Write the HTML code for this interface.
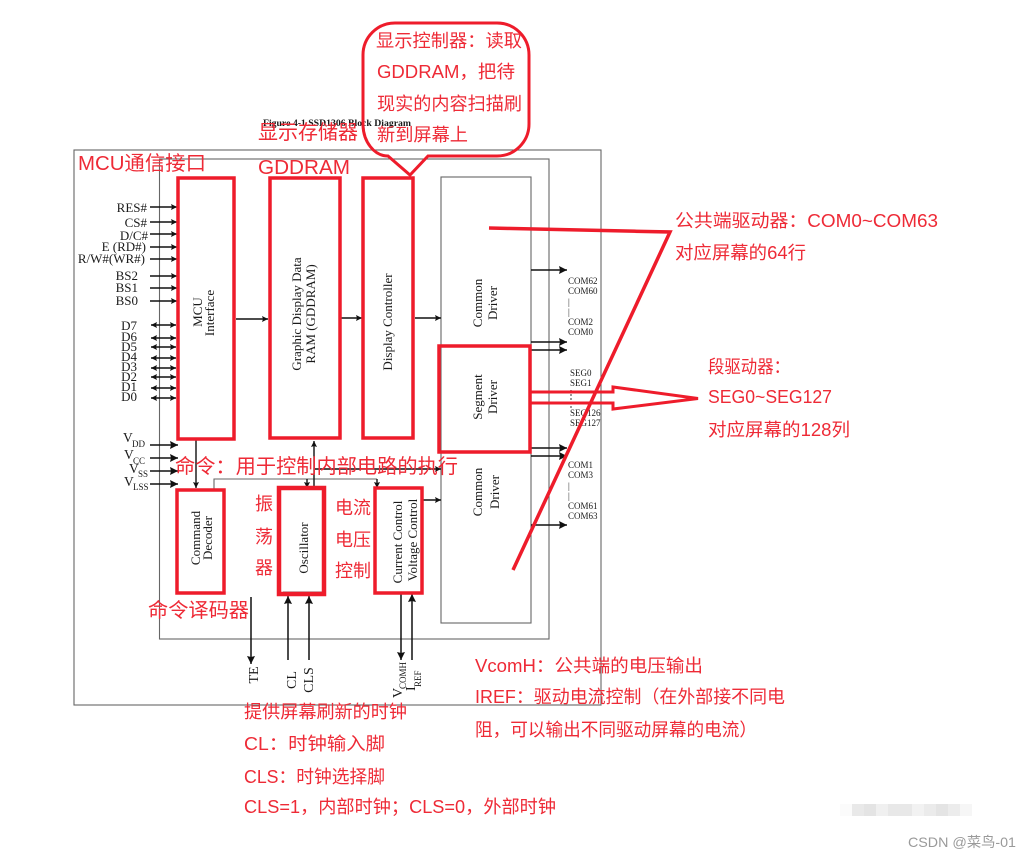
<!DOCTYPE html>
<html><head><meta charset="utf-8"><style>
html,body{margin:0;padding:0;background:#fff}
svg{display:block}
.k{font-family:"Liberation Serif",serif;fill:#1a1a1a}
.r{font-family:"Noto Sans CJK SC","Liberation Sans",sans-serif;fill:#ee2a36}
.l{font-family:"Liberation Sans","Noto Sans CJK SC",sans-serif}
.blk{filter:blur(.35px)}
</style></head><body>
<svg width="1031" height="859" viewBox="0 0 1031 859" xmlns="http://www.w3.org/2000/svg">
<defs>
<marker id="e" markerUnits="userSpaceOnUse" markerWidth="8" markerHeight="8" refX="6" refY="3" orient="auto-start-reverse"><path d="M0,0L6,3L0,6L1,3Z" fill="#111"/></marker>
<marker id="E" markerUnits="userSpaceOnUse" markerWidth="10" markerHeight="10" refX="8" refY="4" orient="auto-start-reverse"><path d="M0,0L8,4L0,8L1,4Z" fill="#111"/></marker>
</defs>
<g class="blk">
<g fill="none" stroke="#666" stroke-width="1.1">
<rect x="74" y="150" width="527" height="555"/>
<rect x="159.500" y="159" width="389.500" height="480"/>
<rect x="441" y="177" width="90" height="446"/>
<path d="M214,490V479H377"/>
<path d="M177,489H224"/>
<path d="M283,592H322"/>
</g>
<g fill="none" stroke="#111" stroke-width="1.4" marker-end="url(#e)">
<path d="M150,207H177"/><path d="M150,222H177"/><path d="M150,234H177"/><path d="M150,247H177"/><path d="M150,259H177"/>
<path d="M150,276H177"/><path d="M150,288H177"/><path d="M150,301H177"/>
<path d="M236,319H268"/><path d="M341,318H362"/><path d="M415,318H441"/>
<path d="M196,440V488"/><path d="M314,488V441"/><path d="M314,469H441"/>
<path d="M307,479V488"/><path d="M377,479V488"/><path d="M423,500H441"/>
</g>
<g fill="none" stroke="#111" stroke-width="1.4" marker-end="url(#e)" marker-start="url(#e)">
<path d="M151,325H176"/><path d="M151,338H176"/><path d="M151,347H176"/><path d="M151,358H176"/><path d="M151,368H176"/><path d="M151,377H176"/><path d="M151,388H176"/><path d="M151,398H176"/>
</g>
<g fill="none" stroke="#111" stroke-width="1.5" marker-end="url(#E)">
<path d="M150,445H178"/><path d="M150,458H178"/><path d="M150,471H178"/><path d="M150,484H178"/>
<path d="M531,270H567"/><path d="M531,342H567"/><path d="M531,350H567"/><path d="M531,448H567"/><path d="M531,456H567"/><path d="M531,525H567"/>
<path d="M251,597V664"/><path d="M288,660V596"/><path d="M309,660V596"/><path d="M401,594V660"/><path d="M412,660V594"/>
</g>
<g class="k" font-size="13" text-anchor="end">
<text x="147" y="212">RES#</text><text x="147" y="227">CS#</text><text x="148" y="240">D/C#</text><text x="146" y="251">E (RD#)</text><text x="145" y="263">R/W#(WR#)</text>
<text x="138" y="280">BS2</text><text x="138" y="292">BS1</text><text x="138" y="305">BS0</text>
<text x="137" y="330">D7</text><text x="137" y="341">D6</text><text x="137" y="351">D5</text><text x="137" y="361">D4</text><text x="137" y="371">D3</text><text x="137" y="381">D2</text><text x="137" y="391">D1</text><text x="137" y="401">D0</text>
</g>
<g class="k" font-size="13.500">
<text x="123" y="442">V</text><text x="124" y="459">V</text><text x="129" y="473">V</text><text x="124" y="486">V</text>
<g font-size="9"><text x="132" y="447">DD</text><text x="133" y="464">CC</text><text x="138" y="477">SS</text><text x="133" y="490">LSS</text></g>
</g>
<g class="k" font-size="13" text-anchor="middle">
<text transform="translate(202,312) rotate(-90)">MCU</text>
<text transform="translate(214,313) rotate(-90)">Interface</text>
<text transform="translate(301,314) rotate(-90)">Graphic Display Data</text>
<text transform="translate(315,314) rotate(-90)">RAM (GDDRAM)</text>
<text transform="translate(392,322) rotate(-90)">Display Controller</text>
<text transform="translate(482,303) rotate(-90)">Common</text>
<text transform="translate(497,303) rotate(-90)">Driver</text>
<text transform="translate(482,397) rotate(-90)">Segment</text>
<text transform="translate(497,397) rotate(-90)">Driver</text>
<text transform="translate(482,492) rotate(-90)">Common</text>
<text transform="translate(499,492) rotate(-90)">Driver</text>
<text transform="translate(200,538) rotate(-90)">Command</text>
<text transform="translate(212,538) rotate(-90)">Decoder</text>
<text transform="translate(308,548) rotate(-90)">Oscillator</text>
<text transform="translate(402,542) rotate(-90)">Current Control</text>
<text transform="translate(417,540) rotate(-90)">Voltage Control</text>
<g font-size="14">
<text transform="translate(258,675) rotate(-90)">TE</text>
<text transform="translate(296,680) rotate(-90)">CL</text>
<text transform="translate(313,680) rotate(-90)">CLS</text>
</g>
</g>
<g class="k" font-size="14">
<text transform="translate(402,698) rotate(-90)">V</text>
<text transform="translate(406,689) rotate(-90)" font-size="9">COMH</text>
<text transform="translate(415,691) rotate(-90)">I</text>
<text transform="translate(421,687) rotate(-90)" font-size="9">REF</text>
</g>
<g class="k" font-size="9">
<text x="568" y="284">COM62</text><text x="568" y="294">COM60</text><text x="568" y="305">|</text><text x="568" y="315">|</text><text x="568" y="325">COM2</text><text x="568" y="335">COM0</text>
<text x="570" y="376">SEG0</text><text x="570" y="386">SEG1</text><text x="570" y="416">SEG126</text><text x="570" y="426">SEG127</text>
<text x="568" y="468">COM1</text><text x="568" y="478">COM3</text><text x="568" y="489">|</text><text x="568" y="499">|</text><text x="568" y="509">COM61</text><text x="568" y="519">COM63</text>
</g>
<path d="M571,390V408" stroke="#333" stroke-width="1" stroke-dasharray="2 2" fill="none"/>
<text class="k" x="263" y="126" font-size="9" font-weight="bold" textLength="148" lengthAdjust="spacingAndGlyphs">Figure 4-1 SSD1306 Block Diagram</text>
<g fill="none" stroke="#ee1c2b" stroke-width="3.5">
<rect x="178" y="178" width="56" height="261"/>
<rect x="270" y="178" width="70" height="260"/>
<rect x="363" y="178" width="50" height="260"/>
<rect x="439" y="346" width="91" height="106"/>
<rect x="177" y="490" width="47" height="103"/>
<rect x="279" y="488" width="45" height="106" stroke-width="4.500"/>
<rect x="375" y="488" width="47" height="105"/>
<path d="M363,55A32,32 0 0 1 395,23H497A32,32 0 0 1 529,55V124A32,32 0 0 1 497,156H428L410,175L388,156A25,32 0 0 1 363,124Z" stroke-width="3"/>
<path d="M489,228L670,232L513,570" stroke-linejoin="miter"/>
<path d="M530,392H613V387L698,398.500L613,409V403H530" stroke-width="3"/>
</g>
<g class="r">
<text class="l" x="78" y="170" font-size="20" textLength="128" lengthAdjust="spacingAndGlyphs">MCU通信接口</text>
<text x="376" y="47" font-size="18" textLength="146" lengthAdjust="spacingAndGlyphs">显示控制器&#xFF1A;读取</text>
<text class="l" x="377" y="78" font-size="18" textLength="138" lengthAdjust="spacingAndGlyphs">GDDRAM&#xFF0C;把待</text>
<text x="377" y="110" font-size="18" textLength="145" lengthAdjust="spacingAndGlyphs">现实的内容扫描刷</text>
<text x="377" y="141" font-size="18" textLength="91" lengthAdjust="spacingAndGlyphs">新到屏幕上</text>
<text x="258" y="139" font-size="20" textLength="100" lengthAdjust="spacingAndGlyphs">显示存储器</text>
<text class="l" x="258" y="174" font-size="20" textLength="92" lengthAdjust="spacingAndGlyphs">GDDRAM</text>
<text x="175" y="473" font-size="20" textLength="283" lengthAdjust="spacingAndGlyphs">命令&#xFF1A;用于控制内部电路的执行</text>
<text x="255" y="510" font-size="18">振</text><text x="255" y="543" font-size="18">荡</text><text x="255" y="574" font-size="18">器</text>
<text x="335" y="514" font-size="18">电流</text><text x="335" y="546" font-size="18">电压</text><text x="335" y="577" font-size="18">控制</text>
<text x="148" y="617" font-size="20" textLength="101" lengthAdjust="spacingAndGlyphs">命令译码器</text>
<text x="244" y="718" font-size="18" textLength="163" lengthAdjust="spacingAndGlyphs">提供屏幕刷新的时钟</text>
<text class="l" x="244" y="750" font-size="18" textLength="141" lengthAdjust="spacingAndGlyphs">CL&#xFF1A;时钟输入脚</text>
<text class="l" x="244" y="783" font-size="18" textLength="141" lengthAdjust="spacingAndGlyphs">CLS&#xFF1A;时钟选择脚</text>
<text class="l" x="244" y="813" font-size="18" textLength="312" lengthAdjust="spacingAndGlyphs">CLS=1&#xFF0C;内部时钟&#xFF1B;CLS=0&#xFF0C;外部时钟</text>
<text class="l" x="475" y="672" font-size="18" textLength="228" lengthAdjust="spacingAndGlyphs">VcomH&#xFF1A;公共端的电压输出</text>
<text class="l" x="475" y="703" font-size="18" textLength="310" lengthAdjust="spacingAndGlyphs">IREF&#xFF1A;驱动电流控制&#xFF08;在外部接不同电</text>
<text x="475" y="736" font-size="18" textLength="282" lengthAdjust="spacingAndGlyphs">阻&#xFF0C;可以输出不同驱动屏幕的电流&#xFF09;</text>
<text class="l" x="675" y="227" font-size="18" textLength="263" lengthAdjust="spacingAndGlyphs">公共端驱动器&#xFF1A;COM0~COM63</text>
<text class="l" x="675" y="259" font-size="18" textLength="131" lengthAdjust="spacingAndGlyphs">对应屏幕的64行</text>
<text x="708" y="373" font-size="18" textLength="82" lengthAdjust="spacingAndGlyphs">段驱动器&#xFF1A;</text>
<text class="l" x="708" y="403" font-size="18" textLength="124" lengthAdjust="spacingAndGlyphs">SEG0~SEG127</text>
<text class="l" x="708" y="436" font-size="18" textLength="142" lengthAdjust="spacingAndGlyphs">对应屏幕的128列</text>
</g>
</g>
<g>
<rect x="840" y="804" width="12" height="12" fill="#fbfbfb"/>
<rect x="852" y="804" width="12" height="12" fill="#e9e9e9"/>
<rect x="864" y="804" width="12" height="12" fill="#e4e4e4"/>
<rect x="876" y="804" width="12" height="12" fill="#f0f0f0"/>
<rect x="888" y="804" width="24" height="12" fill="#e8e8e8"/>
<rect x="912" y="804" width="12" height="12" fill="#f2f2f2"/>
<rect x="924" y="804" width="12" height="12" fill="#ebebeb"/>
<rect x="936" y="804" width="12" height="12" fill="#e4e4e4"/>
<rect x="948" y="804" width="12" height="12" fill="#ececec"/>
<rect x="960" y="804" width="12" height="12" fill="#f6f6f6"/>
</g>
<text x="908" y="847" font-family="'Liberation Sans','Noto Sans CJK SC',sans-serif" font-size="14" fill="#9a9a9a" textLength="108" lengthAdjust="spacingAndGlyphs">CSDN @菜鸟-01</text>
</svg>
</body></html>
